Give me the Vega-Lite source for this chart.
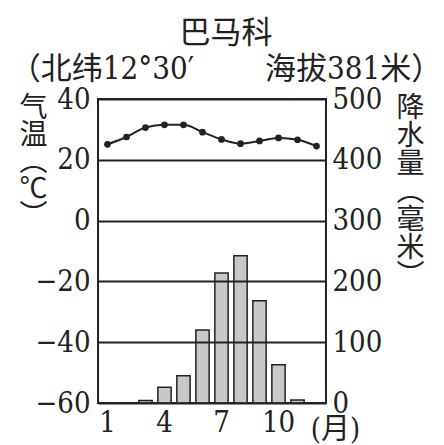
{
  "$schema": "https://vega.github.io/schema/vega-lite/v6.json",
  "autosize": {"type": "none"},
  "padding": {"left": 98, "top": 99, "right": 118, "bottom": 42},
  "width": 228,
  "height": 304,
  "background": "white",
  "title": {
    "text": "巴马科",
    "subtitle": "（北纬12°30′ 　　海拔381米）",
    "anchor": "middle",
    "frame": "group",
    "dx": 14,
    "offset": -1,
    "font": "Noto Sans CJK SC",
    "fontSize": 31,
    "fontWeight": "normal",
    "color": "#222",
    "subtitleFont": "DejaVu Serif Condensed, DejaVu Serif, Noto Sans CJK SC",
    "subtitleFontSize": 31,
    "subtitleColor": "#222",
    "subtitlePadding": 5
  },
  "config": {
    "view": {"stroke": "#222", "strokeWidth": 2},
    "axis": {
      "labelFont": "DejaVu Serif Condensed, DejaVu Serif",
      "labelFontSize": 29,
      "labelColor": "#222",
      "domain": false,
      "ticks": false
    }
  },
  "data": {
    "values": [
      {"month": 1, "temp": 25.1, "precip": 0},
      {"month": 2, "temp": 27.5, "precip": 0},
      {"month": 3, "temp": 30.6, "precip": 4},
      {"month": 4, "temp": 31.5, "precip": 26},
      {"month": 5, "temp": 31.5, "precip": 45},
      {"month": 6, "temp": 29.1, "precip": 120},
      {"month": 7, "temp": 26.7, "precip": 214},
      {"month": 8, "temp": 25.3, "precip": 242},
      {"month": 9, "temp": 26.2, "precip": 168},
      {"month": 10, "temp": 27.2, "precip": 63},
      {"month": 11, "temp": 26.6, "precip": 5},
      {"month": 12, "temp": 24.5, "precip": 0}
    ]
  },
  "encoding": {
    "x": {
      "field": "month",
      "type": "ordinal",
      "scale": {"paddingInner": 0.3, "paddingOuter": 0.15},
      "axis": {
        "values": [1, 4, 7, 10],
        "labelAngle": 0,
        "labelPadding": 5,
        "labelBaseline": "top",
        "title": "(月)",
        "titleFont": "DejaVu Serif Condensed, DejaVu Serif, Noto Sans CJK SC",
        "titleFontSize": 29,
        "titleFontWeight": "normal",
        "titleColor": "#222",
        "titleAngle": 0,
        "titleAlign": "center",
        "titleBaseline": "top",
        "titleX": 237,
        "titleY": 12
      }
    }
  },
  "layer": [
    {
      "mark": {"type": "bar", "fill": "#c8c8c8", "stroke": "#222", "strokeWidth": 1.5},
      "encoding": {
        "y": {
          "field": "precip",
          "type": "quantitative",
          "scale": {"domain": [0, 500], "nice": false, "zero": true},
          "axis": {
            "orient": "right",
            "values": [0, 100, 200, 300, 400, 500],
            "grid": false,
            "labelPadding": 6,
            "title": ["降", "水", "量", "︵", "毫", "米", "︶"],
            "titleFont": "Noto Sans CJK SC",
            "titleFontSize": 28,
            "titleFontWeight": "normal",
            "titleColor": "#222",
            "titleLineHeight": 28,
            "titleAngle": 0,
            "titleAlign": "center",
            "titleBaseline": "top",
            "titleX": 84,
            "titleY": -5
          }
        }
      }
    },
    {
      "mark": {
        "type": "line",
        "interpolate": "monotone",
        "color": "#222",
        "strokeWidth": 2,
        "point": {"filled": true, "size": 45, "color": "#222"}
      },
      "encoding": {
        "y": {
          "field": "temp",
          "type": "quantitative",
          "scale": {"domain": [-60, 40], "nice": false},
          "axis": {
            "orient": "left",
            "values": [-60, -40, -20, 0, 20, 40],
            "grid": true,
            "gridColor": "#222",
            "gridWidth": 2,
            "gridOpacity": 1,
            "zindex": 1,
            "labelPadding": 8,
            "title": ["气", "温", "︵", "℃", "︶"],
            "titleFont": "Noto Sans CJK SC",
            "titleFontSize": 28,
            "titleFontWeight": "normal",
            "titleColor": "#222",
            "titleLineHeight": 27,
            "titleAngle": 0,
            "titleAlign": "center",
            "titleBaseline": "top",
            "titleX": -65,
            "titleY": -5
          }
        }
      }
    }
  ],
  "resolve": {"scale": {"y": "independent"}}
}
